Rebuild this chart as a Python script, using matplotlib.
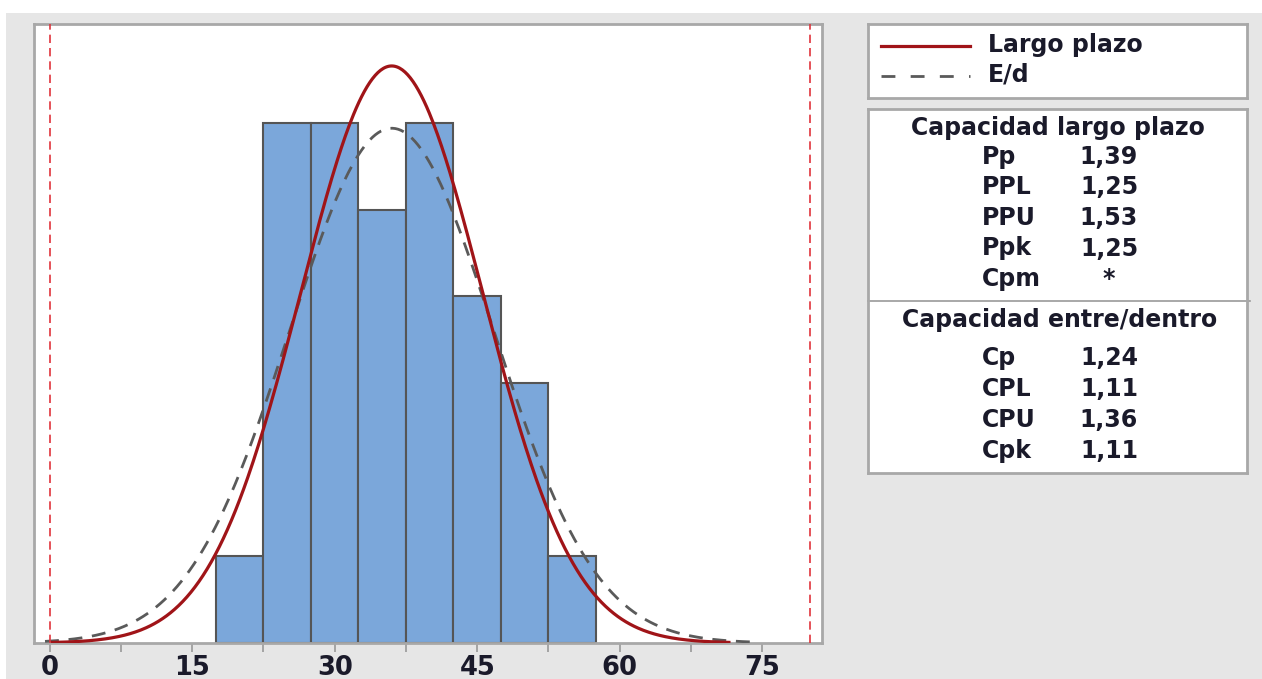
import numpy as np
import matplotlib.pyplot as plt
from matplotlib.patches import Rectangle
from matplotlib.lines import Line2D

# histogram data
bin_centers = [20, 25, 30, 35, 40, 45, 50, 55]
counts = [1, 6, 6, 5, 6, 4, 3, 1]
bin_width = 5

# spec limits and process estimates
lsl, usl = 0, 80
mean = 36.0
sigma_overall = 9.59
sigma_within = 10.75
overall_range = (0.3, 71.5)
within_range = (-0.5, 74.0)

xticks = [0, 15, 30, 45, 60, 75]
minor_xticks = [7.5, 22.5, 37.5, 52.5, 67.5]

legend_labels = ['Largo plazo', 'E/d']
long_title = 'Capacidad largo plazo'
long_labels = ['Pp', 'PPL', 'PPU', 'Ppk', 'Cpm']
long_values = ['1,39', '1,25', '1,53', '1,25', '*']
within_title = 'Capacidad entre/dentro'
within_labels = ['Cp', 'CPL', 'CPU', 'Cpk']
within_values = ['1,24', '1,11', '1,36', '1,11']

W, H = 1262, 679
FONT = 'DejaVu Sans'
RED = '#a01418'
DGREY = '#5a5a5a'
BOX = '#a8a8a8'
TXT = '#1a1a2a'


def normal_counts(x, mu, s):
    n = sum(counts)
    return n * bin_width * np.exp(-0.5 * ((x - mu) / s) ** 2) / (s * np.sqrt(2 * np.pi))


def px_axes(fig, x0, y0, x1, y1):
    # axes from pixel box (top-left origin)
    return fig.add_axes([x0 / W, 1 - y1 / H, (x1 - x0) / W, (y1 - y0) / H])


fig = plt.figure(figsize=(W / 100, H / 100), dpi=100)
fig.patch.set_facecolor('white')
fig.patches.append(Rectangle((6 / W, 0), 1, 1 - 13 / H, transform=fig.transFigure,
                             facecolor='#e6e6e6', edgecolor='none', zorder=-10))

ax = px_axes(fig, 34, 24, 822, 643)
ax.bar(bin_centers, counts, width=bin_width, color='#7ba7da', edgecolor='#555555',
       linewidth=1.5, zorder=2)

xo = np.linspace(overall_range[0], overall_range[1], 500)
xw = np.linspace(within_range[0], within_range[1], 500)
ax.plot(xw, normal_counts(xw, mean, sigma_within), color=DGREY, lw=2.0,
        linestyle=(0, (5, 3.5)), zorder=3)
ax.plot(xo, normal_counts(xo, mean, sigma_overall), color=RED, lw=2.3, zorder=4)

for s in (lsl, usl):
    ax.axvline(s, color='#e0343c', lw=1.2, linestyle=(0, (5, 3)), zorder=5)

ax.set_xlim(-1.66, 81.3)
ax.set_ylim(0, 7.14)
ax.set_yticks([])
ax.set_xticks(xticks)
ax.set_xticks(minor_xticks, minor=True)
ax.set_xticklabels([str(t) for t in xticks], fontsize=18.5, family=FONT,
                   fontweight='bold', color=TXT)
ax.tick_params(axis='x', which='both', length=6.5, width=1.2, color='#999999', pad=2)
for sp in ax.spines.values():
    sp.set_color(BOX)
    sp.set_linewidth(2)

# legend box
lg = px_axes(fig, 868, 24, 1247, 98)
lg.set_xlim(868, 1247)
lg.set_ylim(98, 24)
lg.set_xticks([])
lg.set_yticks([])
for sp in lg.spines.values():
    sp.set_color(BOX)
    sp.set_linewidth(2)
handles = [dict(color=RED, lw=2.3, ls='-'), dict(color=DGREY, lw=2.0, ls=(0, (5, 5.5)))]
for i, (lab, h) in enumerate(zip(legend_labels, handles)):
    yy = 46 + i * 30
    lg.add_line(Line2D([881, 970], [yy, yy], **h))
    lg.text(988, yy - 1, lab, fontsize=17, family=FONT, fontweight='bold',
            ha='left', va='center', color=TXT)

# statistics table
tb = px_axes(fig, 868, 109, 1247, 473)
tb.set_xlim(868, 1247)
tb.set_ylim(473, 109)
tb.set_xticks([])
tb.set_yticks([])
for sp in tb.spines.values():
    sp.set_color(BOX)
    sp.set_linewidth(2)

tkw = dict(fontsize=17, family=FONT, fontweight='bold', color=TXT, va='center')
tb.text(1058, 128, long_title, ha='center', **tkw)
for i, (lab, val) in enumerate(zip(long_labels, long_values)):
    yy = 157 + i * 30.5
    tb.text(982, yy, lab, ha='left', **tkw)
    tb.text(1109, yy, val, ha='center', **tkw)
tb.plot([868, 1250], [301, 301], color='#999999', lw=1.2, clip_on=False)
tb.text(1060, 320, within_title, ha='center', **tkw)
for i, (lab, val) in enumerate(zip(within_labels, within_values)):
    yy = 358 + i * 31
    tb.text(982, yy, lab, ha='left', **tkw)
    tb.text(1109, yy, val, ha='center', **tkw)

fig.savefig('out.png', dpi=100)
